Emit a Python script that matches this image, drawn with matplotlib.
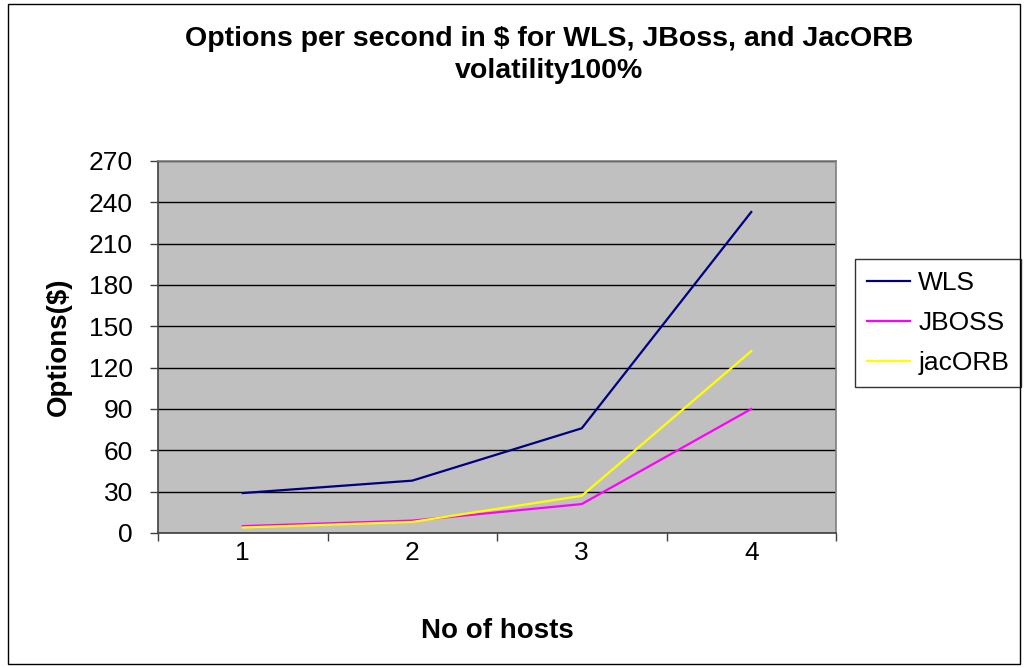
import matplotlib.pyplot as plt
from matplotlib.patches import Rectangle

plt.rcParams['font.family'] = ['Liberation Sans', 'DejaVu Sans']

hosts = [1, 2, 3, 4]
wls = [29, 38, 76, 233]
jboss = [5, 9, 21, 90]
jacorb = [4, 8, 27, 132]
yticks = list(range(0, 271, 30))

fig = plt.figure(figsize=(10.26, 6.68), dpi=100)
fig.patches.append(Rectangle((8 / 1026, 4 / 668), 1012 / 1026, 660 / 668,
                             transform=fig.transFigure, fill=False,
                             edgecolor='black', linewidth=1))

ax = fig.add_axes([158 / 1026, 1 - 533 / 668, 678 / 1026, 372 / 668])
ax.set_facecolor('#c0c0c0')

x = range(len(hosts))
ax.plot(x, wls, color='#000080', lw=1.6, label='WLS')
ax.plot(x, jboss, color='#ff00ff', lw=1.6, label='JBOSS')
ax.plot(x, jacorb, color='#ffff00', lw=1.6, label='jacORB')

ax.set_xlim(-0.5, len(hosts) - 0.5)
ax.set_ylim(0, 270)
ax.set_yticks(yticks)
ax.yaxis.grid(True, color='black', lw=1)
ax.set_axisbelow(True)

# category labels centred, tick marks on the category boundaries
ax.set_xticks(list(x))
ax.set_xticklabels([str(h) for h in hosts])
ax.set_xticks([i - 0.5 for i in range(len(hosts) + 1)], minor=True)
ax.tick_params(axis='x', which='major', length=0, pad=6, labelsize=19)
ax.tick_params(axis='x', which='minor', length=6, width=1, color='#404040')
ax.tick_params(axis='y', length=6, width=1, color='#404040', pad=12, labelsize=19)

for side in ['left', 'bottom']:
    ax.spines[side].set_color('#404040')
    ax.spines[side].set_linewidth(1.2)
for side in ['right', 'top']:
    ax.spines[side].set_color('#808080')
    ax.spines[side].set_linewidth(1.2)

ax.set_xlabel('No of hosts', fontsize=20, fontweight='bold', labelpad=38)
ax.set_ylabel('Options($)', fontsize=20, fontweight='bold', labelpad=12)

fig.text(0.535, 1 - 55 / 668, 'Options per second in $ for WLS, JBoss, and JacORB\nvolatility100%',
         ha='center', va='center', fontsize=20.5, fontweight='bold', linespacing=1.3)

leg = ax.legend(loc='center left', bbox_to_anchor=(855 / 1026, 1 - 323 / 668),
                bbox_transform=fig.transFigure, frameon=True, fancybox=False,
                fontsize=19, handlelength=1.65, handletextpad=0.3,
                borderpad=0.45, labelspacing=0.6, borderaxespad=0)
leg.get_frame().set_edgecolor('black')
leg.get_frame().set_linewidth(1)

fig.savefig('out.png', dpi=100)
